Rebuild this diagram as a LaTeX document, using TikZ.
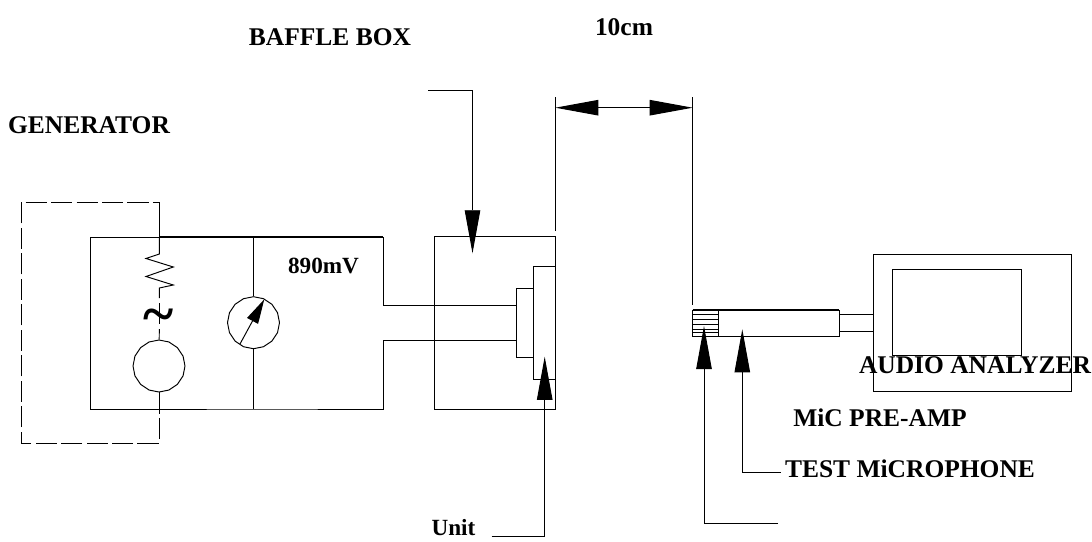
\documentclass[tikz,border=0pt]{standalone}
\usepackage{fontspec}
\setmainfont{Liberation Serif}
\usetikzlibrary{arrows.meta,shapes.geometric}
\tikzset{
  wire/.style={line width=0.55pt},
  dashwire/.style={line width=0.55pt,dash pattern=on 12pt off 2.5pt},
  bigtip/.style={-{Triangle[length=24.5pt,width=8.8pt]}},
  dimtip/.style={{Triangle[length=24.5pt,width=8.8pt]}-{Triangle[length=24.5pt,width=8.8pt]}},
  needle/.style={-{Triangle[length=14pt,width=7pt]}},
  dial/.style={regular polygon,regular polygon sides=16,shape border rotate=11.25,draw,line width=0.55pt,minimum size=29.6pt,inner sep=0pt},
  caption/.style={font=\fontsize{14.5}{16}\bfseries,inner sep=0pt},
  smallcaption/.style={font=\fontsize{13.2}{15}\bfseries,inner sep=0pt}
}
\begin{document}
\begin{tikzpicture}[x=0.02cm,y=-0.02cm]
\useasboundingbox (0,0) rectangle (1092,541);

% labels
\node[caption] (baffletext) at (330,37) {BAFFLE BOX};
\node[caption] (disttext) at (624,27) {10cm};
\node[caption] (gentext) at (89,125) {GENERATOR};
\node[smallcaption] (volttext) at (323.5,266) {890mV};
\node[caption] (audiotext) at (975,365) {AUDIO ANALYZER};
\node[caption] (preamptext) at (880,418) {MiC PRE-AMP};
\node[caption] (testtext) at (910,469) {TEST MiCROPHONE};
\node[smallcaption] (unittext) at (453.5,527.5) {Unit};

% generator
\node[dial] (source) at (159,366) {};
\node[dial] (meter) at (253.5,322.7) {};
\coordinate (topA) at (159.3,237);
\coordinate (topB) at (253.5,237);
\coordinate (botA) at (159,409);
\coordinate (botB) at (253.5,409);
\coordinate (corner) at (383,237);
\coordinate (cornerB) at (383,409);
\draw[wire] (topA) -| (90,409) -- (botA);
\draw[line width=0.9pt] (topA) -- (topB) -- (corner);
\draw[wire] (corner) -- (383,305.7) -- (516.3,305.7);
\draw[wire] (botA) -- (botB) -- (cornerB) -- (383,340) -- (516.3,340);
\draw[wire] (topB) -- (meter);
\draw[wire] (meter) -- (botB);
\draw[wire] (topA) -- (159.3,254) -- (146,258.5) -- (173.3,267) -- (146,276.5) -- (173.3,285) -- (159.3,288) -- (159.3,298);
\draw[wire] (159.3,303) -- (159.3,324);
\draw[wire] (159.3,329) -- (source);
\draw[dashwire] (source) -- (159,443) -| (21.5,202) -- (159.3,202);
\draw[wire] (159.3,202) -- (topA);
\node[font=\fontsize{33}{33}\bfseries,inner sep=0pt] (tilde) at (159,321.5) {\char"7E};
\draw[wire,needle] (240,344) -- (264.3,299.3);

% baffle box
\draw[wire] (434.3,236.7) rectangle (555.3,409);
\draw[wire] (533.7,266.7) rectangle (555.3,379);
\draw[wire] (516.3,288.3) rectangle (533.7,357.3);
\coordinate (baffleA) at (428,90);
\coordinate (baffleB) at (472.5,253.3);
\draw[wire,bigtip] (baffleA) -| (baffleB);
\coordinate (unitA) at (491.7,536.7);
\coordinate (unitB) at (544.7,356.7);
\draw[wire,bigtip] (unitA) -| (unitB);

% distance
\coordinate (dimL) at (555.3,107.7);
\coordinate (dimR) at (692.7,107.7);
\draw[wire] (555.3,97.3) -- (555.3,231);
\draw[wire] (692.7,97.3) -- (692.7,305);
\draw[wire,dimtip] (dimL) -- (dimR);

% microphone
\draw[wire] (692.7,310) rectangle (718.7,336);
\draw[wire] (718.7,336) -- (839.3,336) -- (839.3,310);
\draw[line width=0.9pt] (692.7,310) -- (839.3,310);
\foreach \y in {314,319,324,329,332} \draw[wire] (692.7,\y) -- (718.7,\y);
\draw[wire] (839.3,314) rectangle (873.7,331);
\coordinate (micA) at (778,523.3);
\coordinate (micB) at (704,326);
\draw[wire,bigtip] (micA) -| (micB);
\coordinate (preA) at (780.7,472.7);
\coordinate (preB) at (742.3,329.3);
\draw[wire,bigtip] (preA) -| (preB);

% analyzer
\draw[wire] (873.7,254) rectangle (1071.7,391.7);
\draw[wire] (892,269.3) rectangle (1021.3,355);
\end{tikzpicture}
\end{document}
